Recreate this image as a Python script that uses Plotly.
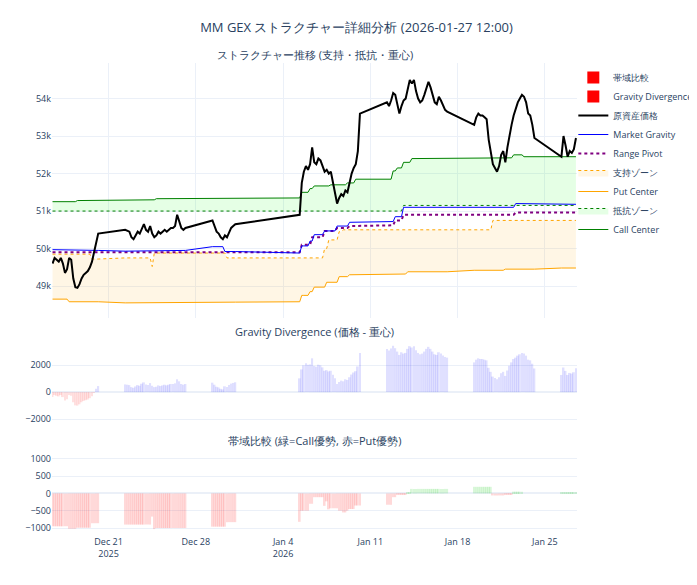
import pandas as pd
import numpy as np
import plotly.graph_objects as go
from plotly.subplots import make_subplots

# segment starts (4-hour sampling) and lengths
seg_starts = ["2025-12-16 12:00", "2025-12-22 08:00", "2025-12-29 08:00", "2026-01-05 08:00",
              "2026-01-12 08:00", "2026-01-19 08:00", "2026-01-26 08:00"]
seg_lens = [23, 30, 12, 30, 30, 30, 8]

# underlying price (k)
price_k = [
    49.6,49.75,49.7,49.65,49.75,49.6,49.35,49.45,49.75,49.7,49.2,48.97,48.95,49.05,49.2,49.3,49.35,49.4,49.5,49.65,49.9,50.2,50.4,
    50.5,50.48,50.45,50.3,50.25,50.35,50.45,50.4,50.55,50.65,50.5,50.45,50.6,50.4,50.3,50.35,50.45,50.4,50.45,50.5,50.45,50.5,50.55,50.55,50.6,50.9,50.75,50.55,50.5,50.55,
    50.75,50.6,50.45,50.4,50.3,50.25,50.35,50.3,50.45,50.55,50.6,50.65,
    50.9,51.75,52.05,52.2,52.1,52.25,52.7,52.3,52.25,52.4,52.35,52.2,52.05,52.1,52.0,52.05,51.75,51.5,51.2,51.35,51.45,51.4,51.55,51.5,51.8,52.0,52.15,52.25,52.6,53.6,
    53.9,53.8,53.95,54.15,54.1,53.85,53.6,53.8,53.95,54.0,54.3,54.5,54.4,54.5,54.2,54.0,53.9,53.95,54.1,54.3,54.45,54.3,54.1,53.9,53.85,54.05,53.95,53.8,53.7,53.65,
    53.3,53.5,53.6,53.55,53.55,53.5,53.45,52.9,52.6,52.25,52.15,52.05,52.2,52.5,52.6,52.3,52.7,53.05,53.3,53.55,53.75,53.9,54.0,54.1,54.05,53.9,53.6,53.55,53.3,52.95,
    52.45,53.0,52.75,52.45,52.6,52.55,52.65,52.95,
]

# step series as (value_k, count) runs
gravity_runs = [(49.97,10),(49.95,13), (49.93,15),(49.95,15), (50.05,6),(49.92,6),
    (49.88,1),(50.07,4),(50.2,2),(50.37,5),(50.47,6),(50.6,6),(50.7,6),
    (50.72,4),(50.85,4),(51.1,22), (51.1,20),(51.2,10), (51.18,8)]
pivot_runs = [(49.9,23), (49.88,30), (49.9,12),
    (49.9,1),(50.1,5),(50.3,6),(50.47,6),(50.55,6),(50.6,6),
    (50.62,4),(50.75,4),(50.9,22), (50.9,20),(50.96,10), (50.96,8)]
resist_runs = [(51.0,23),(51.0,30),(51.0,12),(51.0,30),(51.0,8),(51.15,22),(51.15,30),(51.15,8)]
call_runs = [(51.25,12),(51.28,11), (51.3,15),(51.33,15), (51.35,12),
    (51.35,1),(51.5,4),(51.6,2),(51.67,8),(51.7,8),(51.75,4),(51.85,3),
    (51.85,3),(52.07,2),(52.15,3),(52.3,4),(52.4,18),
    (52.42,19),(52.5,5),(52.45,6), (52.45,8)]
support_runs = [(49.85,19),(49.72,4), (49.75,13),(49.52,1),(49.88,16), (49.88,7),(49.75,5),
    (49.75,12),(50.0,2),(50.23,5),(50.45,2),(50.5,9), (50.5,30), (50.5,9),(50.75,21), (50.75,8)]
put_runs = [(48.65,8),(48.58,15), (48.55,30), (48.57,12),
    (48.58,1),(48.75,4),(48.85,2),(48.97,6),(49.1,6),(49.25,5),(49.3,6),
    (49.32,10),(49.38,20), (49.42,15),(49.45,15), (49.48,8)]

def expand(runs):
    out = []
    for v, n in runs:
        out += [v * 1000] * n
    return np.array(out)

t = []
for s, n in zip(seg_starts, seg_lens):
    t += list(pd.date_range(s, periods=n, freq="4h"))
t = pd.DatetimeIndex(t)

price = np.array(price_k) * 1000
gravity = expand(gravity_runs)
pivot = expand(pivot_runs)
resist = expand(resist_runs)
call = expand(call_runs)
support = expand(support_runs)
put = expand(put_runs)

divergence = price - gravity
band = (call - resist) - (support - put)

fig = make_subplots(rows=3, cols=1, shared_xaxes=True)

fig.add_trace(go.Scatter(x=t, y=call, name="Call Center", mode="lines",
                         line=dict(color="green", width=1)), row=1, col=1)
fig.add_trace(go.Scatter(x=t, y=resist, name="抵抗ゾーン", mode="lines",
                         line=dict(color="green", width=1, dash="dot"),
                         fill="tonexty", fillcolor="rgba(0,255,0,0.1)"), row=1, col=1)
fig.add_trace(go.Scatter(x=t, y=put, name="Put Center", mode="lines",
                         line=dict(color="orange", width=1)), row=1, col=1)
fig.add_trace(go.Scatter(x=t, y=support, name="支持ゾーン", mode="lines",
                         line=dict(color="orange", width=1, dash="dot"),
                         fill="tonexty", fillcolor="rgba(255,165,0,0.1)"), row=1, col=1)
fig.add_trace(go.Scatter(x=t, y=pivot, name="Range Pivot", mode="lines",
                         line=dict(color="purple", width=2, dash="dot")), row=1, col=1)
fig.add_trace(go.Scatter(x=t, y=gravity, name="Market Gravity", mode="lines",
                         line=dict(color="blue", width=1)), row=1, col=1)
fig.add_trace(go.Scatter(x=t, y=price, name="原資産価格", mode="lines",
                         line=dict(color="black", width=2)), row=1, col=1)

gd_colors = ["red" if v < 0 else "blue" for v in divergence]
fig.add_trace(go.Bar(x=t, y=divergence, name="Gravity Divergence",
                     marker=dict(color=gd_colors, opacity=0.12, line=dict(width=0))), row=2, col=1)
band_colors = ["red" if v < 0 else "#00c800" for v in band]
fig.add_trace(go.Bar(x=t, y=band, name="帯域比較",
                     marker=dict(color=band_colors, opacity=0.15, line=dict(width=0))), row=3, col=1)

fig.update_layout(
    template="plotly_white",
    width=697, height=585,
    margin=dict(l=44, r=128, t=55, b=58, autoexpand=False),
    title=dict(text="MM GEX ストラクチャー詳細分析 (2026-01-27 12:00)", x=0.5, y=0.966,
               xanchor="center", yanchor="middle", font=dict(size=13)),
    legend=dict(traceorder="reversed", x=0.993, y=1.0, yanchor="top", font=dict(size=9),
                bgcolor="rgba(0,0,0,0)"),
    bargap=0.1,
    font=dict(size=9),
    annotations=[
        dict(text="ストラクチャー推移 (支持・抵抗・重心)", x=0.5, y=1.017, xref="paper", yref="paper",
             showarrow=False, xanchor="center", yanchor="middle", font=dict(size=11)),
        dict(text="Gravity Divergence (価格 - 重心)", x=0.5, y=0.432, xref="paper", yref="paper",
             showarrow=False, xanchor="center", yanchor="middle", font=dict(size=11)),
        dict(text="帯域比較 (緑=Call優勢, 赤=Put優勢)", x=0.5, y=0.201, xref="paper", yref="paper",
             showarrow=False, xanchor="center", yanchor="middle", font=dict(size=11)),
    ],
)
fig.update_yaxes(domain=[0.46, 1.0], range=[48150, 54950], automargin=False, row=1, col=1)
fig.update_yaxes(domain=[0.2225, 0.413], range=[-2800, 3850], dtick=2000, automargin=False, row=2, col=1)
fig.update_yaxes(domain=[0.0, 0.18], range=[-1200, 1250], dtick=500, automargin=False, row=3, col=1)
fig.update_xaxes(range=["2025-12-16 11:00", "2026-01-27 14:00"], automargin=False)

fig.write_html("out.html")
